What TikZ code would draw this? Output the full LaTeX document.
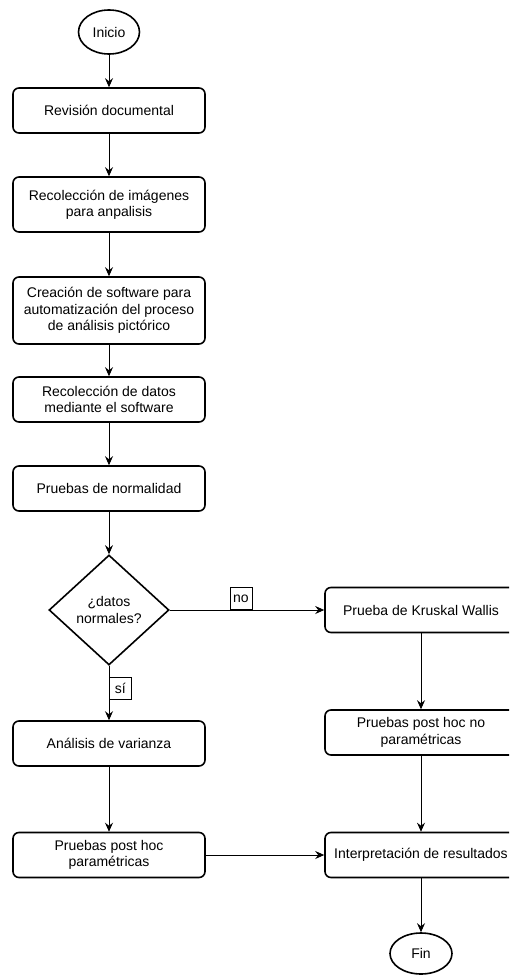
\documentclass[tikz,border=0pt]{standalone}
\usepackage{fontspec}
\setmainfont{Liberation Sans}
\usetikzlibrary{arrows.meta,shapes.geometric}

\begin{document}
\begin{tikzpicture}[
    x=1pt,y=-1pt,
    font=\fontsize{14}{16.3}\selectfont,>={Stealth[length=9pt,width=8pt,inset=3pt]},
    base/.style={draw,line width=1.6pt,inner sep=0pt,align=center},
    proc/.style={base,rectangle,rounded corners=6pt,minimum width=192pt,minimum height=45pt},
    term/.style={base,ellipse,minimum width=61pt,minimum height=44pt},
    decision/.style={base,diamond,minimum width=120pt,minimum height=110pt},
    lbl/.style={rectangle,draw,line width=.6pt,fill=white,inner sep=3pt,minimum size=22pt},
    flow/.style={->,line width=.9pt},
    ]
    \useasboundingbox (0,0) rectangle (509,975);
    \clip (0,0) rectangle (509,975);
    \node[term] (ini) at (109,32) {Inicio};
    \node[proc] (rev) at (109,110.5) {Revisión documental};
    \node[proc,minimum height=55pt] (img) at (109,204.5) {Recolección de imágenes\\para anpalisis};
    \node[proc,minimum height=67pt] (soft) at (109,310.5) {Creación de software para\\automatización del proceso\\de análisis pictórico};
    \node[proc] (datos) at (109,399.5) {Recolección de datos\\mediante el software};
    \node[proc] (norm) at (109,488.5) {Pruebas de normalidad};
    \node[decision] (dec) at (109,610) {¿datos\\normales?};
    \node[proc] (kw) at (421,610) {Prueba de Kruskal Wallis};
    \node[proc] (anova) at (109,743.5) {Análisis de varianza};
    \node[proc] (npost) at (421,732.5) {Pruebas post hoc no\\paramétricas};
    \node[proc] (ppost) at (109,855) {Pruebas post hoc\\paramétricas};
    \node[proc] (interp) at (421,855) {Interpretación de resultados};
    \node[term,minimum width=62pt,minimum height=41pt] (fin) at (421,953.5) {Fin};

    \path (ini) edge[flow] (rev)
        (rev) edge[flow] (img)
        (img) edge[flow] (soft)
        (soft) edge[flow] (datos)
        (datos) edge[flow] (norm)
        (norm) edge[flow] (dec)
        ;
    \path (dec.east)
        edge[flow] node[lbl,pos=.46,anchor=south] {no} (kw.west);
    \path (dec.south)
        edge[flow] node[lbl,pos=.41,anchor=west] {sí} (anova.north);
    \path (kw) edge[flow] (npost)
        (npost) edge[flow] (interp)
        (anova) edge[flow] (ppost)
        (ppost) edge[flow] (interp)
        (interp) edge[flow] (fin)
        ;
\end{tikzpicture}
\end{document}
